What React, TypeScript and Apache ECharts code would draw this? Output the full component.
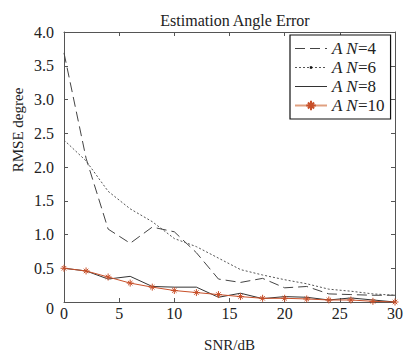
import React, { useEffect, useRef } from "react";
import * as echarts from "echarts";

const snr = [0, 2, 4, 6, 8, 10, 12, 14, 16, 18, 20, 22, 24, 26, 28, 30];
const an4 = [3.69, 2.13, 1.08, 0.87, 1.11, 1.04, 0.73, 0.34, 0.29, 0.35, 0.21, 0.23, 0.12, 0.11, 0.1, 0.1];
const an6 = [2.4, 2.09, 1.64, 1.38, 1.19, 0.94, 0.82, 0.65, 0.48, 0.4, 0.33, 0.27, 0.19, 0.16, 0.12, 0.1];
const an8 = [0.5, 0.46, 0.34, 0.38, 0.23, 0.22, 0.22, 0.07, 0.13, 0.05, 0.08, 0.07, 0.03, 0.06, 0.03, 0.0];
const an10 = [0.5, 0.46, 0.37, 0.28, 0.22, 0.17, 0.14, 0.11, 0.08, 0.055, 0.055, 0.045, 0.03, 0.03, 0.01, 0.0];
const seriesNames = ["AN=4", "AN=6", "AN=8", "AN=10"];

const FONT = "Liberation Serif";
const AXIS = "#555";
const RED = "#c8502a";
const STAR = "path://M5 0L5 10M0 5L10 5M1.8 1.8L8.2 8.2M8.2 1.8L1.8 8.2";
const DOT = "path://M0 0L0.01 0L0 0.01Z M10 10L9.99 10L10 9.99Z M3.8 3.8L6.2 3.8L6.2 6.2L3.8 6.2Z";

export default function App() {
  const ref = useRef<HTMLDivElement>(null);
  useEffect(() => {
    document.body.style.margin = "0";
    if (!ref.current) return;
    const chart = echarts.init(ref.current, null, { renderer: "svg" });
    const pairs = (ys: number[]) => snr.map((x, i) => [x, ys[i]]);
    const axisCommon = {
      type: "value" as const,
      axisLine: { show: true, onZero: false, lineStyle: { color: AXIS, width: 1 } },
      axisTick: { show: true, inside: true, length: 4, lineStyle: { color: AXIS } },
      splitLine: { show: false },
    };
    chart.setOption({
      animation: false,
      backgroundColor: "#fff",
      title: {
        text: "Estimation Angle Error",
        left: 230,
        textAlign: "center",
        top: 7,
        textStyle: { fontFamily: FONT, fontSize: 16, fontWeight: "normal", color: "#222" },
      },
      grid: { left: 64, right: 10, top: 32, bottom: 51 },
      xAxis: [
        {
          ...axisCommon,
          min: 0,
          max: 30,
          interval: 5,
          name: "SNR/dB",
          nameLocation: "middle",
          nameGap: 35,
          nameTextStyle: { fontFamily: FONT, fontSize: 15, color: "#222" },
          axisLabel: { fontFamily: FONT, fontSize: 16, color: "#222", margin: 3 },
        },
        {
          ...axisCommon,
          position: "top",
          min: 0,
          max: 30,
          interval: 5,
          axisLabel: { show: false },
        },
      ],
      yAxis: [
        {
          ...axisCommon,
          min: 0,
          max: 4,
          interval: 0.5,
          axisLabel: {
            fontFamily: FONT,
            fontSize: 16,
            color: "#222",
            margin: 10,
            formatter: (v: number) => (v === 0 ? "{z|0}" : v.toFixed(1)),
            rich: { z: { fontFamily: FONT, fontSize: 16, color: "#222", padding: [12, 0, 0, 0] } },
          },
        },
        {
          ...axisCommon,
          position: "right",
          min: 0,
          max: 4,
          interval: 0.5,
          axisLabel: { show: false },
        },
      ],
      graphic: [
        {
          type: "text",
          x: 18,
          y: 130,
          rotation: Math.PI / 2,
          style: {
            text: "RMSE degree",
            font: `15px "${FONT}"`,
            fill: "#222",
            textAlign: "center",
            textVerticalAlign: "middle",
          },
        },
      ],
      legend: {
        left: 290,
        top: 35,
        orient: "vertical",
        backgroundColor: "#fff",
        borderColor: "#111",
        borderWidth: 1.2,
        borderRadius: 0,
        padding: [5, 6, 5, 4],
        itemGap: 2,
        itemWidth: 32,
        itemHeight: 12,
        data: [
          { name: seriesNames[0], itemStyle: { opacity: 0 }, lineStyle: { width: 1 } },
          { name: seriesNames[1], lineStyle: { width: 1 } },
          { name: seriesNames[2], itemStyle: { opacity: 0 }, lineStyle: { width: 1 } },
          { name: seriesNames[3], lineStyle: { color: "#e0a080", width: 2 } },
        ],
        formatter: (n: string) => `{i|A N}{r|${n.slice(2)}}`,
        textStyle: {
          rich: {
            i: { fontFamily: FONT, fontStyle: "italic", fontSize: 17, color: "#222", lineHeight: 20 },
            r: { fontFamily: FONT, fontSize: 17, color: "#222", lineHeight: 20 },
          },
        },
      },
      series: [
        {
          name: seriesNames[0],
          type: "line",
          data: pairs(an4),
          symbol: "none",
          lineStyle: { color: "#444", width: 1, type: [10, 5] },
          itemStyle: { color: "#444" },
        },
        {
          name: seriesNames[1],
          type: "line",
          data: pairs(an6),
          symbol: DOT,
          showSymbol: false,
          lineStyle: { color: "#555", width: 1, type: [2, 2] },
          itemStyle: { color: "#111" },
        },
        {
          name: seriesNames[2],
          type: "line",
          data: pairs(an8),
          symbol: "none",
          lineStyle: { color: "#333", width: 1 },
          itemStyle: { color: "#333" },
        },
        {
          name: seriesNames[3],
          type: "line",
          data: pairs(an10),
          symbol: STAR,
          symbolSize: 7,
          lineStyle: { color: RED, width: 1 },
          itemStyle: { color: RED, borderColor: RED, borderWidth: 1 },
        },
      ],
    });
    return () => chart.dispose();
  }, []);
  return <div ref={ref} style={{ width: 406, height: 357 }} />;
}
